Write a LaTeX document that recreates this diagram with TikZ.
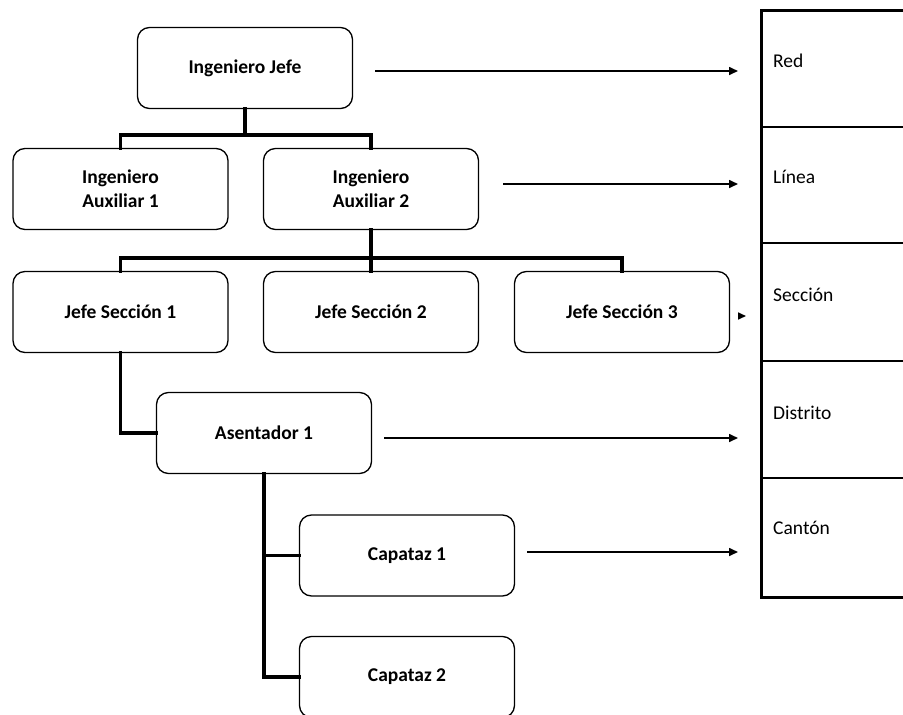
\documentclass[tikz,border=0pt]{standalone}
\usepackage{fontspec}
\setmainfont{Carlito}
\usetikzlibrary{arrows.meta,calc}
\begin{document}
\begin{tikzpicture}[x=1pt,y=-1pt,
  box/.style={draw=black,line width=1.3pt,rounded corners=12pt,fill=white,
    minimum width=215pt,minimum height=81pt,align=center,
    font=\fontsize{19.5}{24}\selectfont\bfseries},
  conn/.style={line width=3.8pt,line join=miter,line cap=rect},
  ptr/.style={line width=1.6pt,-{Triangle[length=9pt,width=8pt]}},
  cell/.style={anchor=west,inner sep=0pt,font=\fontsize{19.5}{24}\selectfont},
  tblthick/.style={line width=3pt,line join=miter},
  tblthin/.style={line width=2pt}]
\useasboundingbox (0,0) rectangle (903,715);

% organisation boxes
\node[box] (jefe)  at (245,68)    {Ingeniero Jefe};
\node[box] (aux1)  at (120.5,189) {Ingeniero\\Auxiliar 1};
\node[box] (aux2)  at (371,189)   {Ingeniero\\Auxiliar 2};
\node[box] (js1)   at (120.5,312) {Jefe Sección 1};
\node[box] (js2)   at (371,312)   {Jefe Sección 2};
\node[box] (js3)   at (622,312)   {Jefe Sección 3};
\node[box] (asent) at (264,433)   {Asentador 1};
\node[box] (cap1)  at (407,555.5) {Capataz 1};
\node[box] (cap2)  at (407,677)   {Capataz 2};

% hierarchy connectors
\coordinate (b1) at (245,135);
\coordinate (b2) at (371,258);
\draw[conn] (jefe.south) -- (b1);
\draw[conn] (aux1.north) |- (b1) -| (aux2.north);
\draw[conn] (aux2.south) -- (b2);
\draw[conn] (js1.north) |- (b2) -| (js3.north);
\draw[conn] (b2) -- (js2.north);
\draw[conn] (js1.south) |- (asent.west);
\draw[conn] (asent.south) |- (cap2.west);
\draw[conn] (asent.south |- cap1.west) -- (cap1.west);

% levels table
\draw[tblthick] (906,10) -- (761,10) -- (761,597) -- (906,597);
\foreach \yy in {127,243,361,478}
  \draw[tblthin] (761,\yy) -- (906,\yy);
\node[cell] (red)  at (773,61)  {Red};
\node[cell] (lin)  at (773,177) {Línea};
\node[cell] (sec)  at (773,295) {Sección};
\node[cell] (dis)  at (773,413) {Distrito};
\node[cell] (can)  at (773,528) {Cantón};

% pointers to the levels
\coordinate (t1) at (738,71);
\coordinate (t2) at (738,184);
\coordinate (t3) at (746,316);
\coordinate (t4) at (738,438);
\coordinate (t5) at (738,552);
\draw[ptr] ($(jefe.east)+(22,3)$) -- (t1);
\draw[ptr] ($(aux2.east)+(24,-5)$) -- (t2);
\draw[ptr,-{Triangle[length=8pt,width=7pt]}] ($(js3.east)+(9,4)$) -- (t3);
\draw[ptr] ($(asent.east)+(12,5)$) -- (t4);
\draw[ptr] ($(cap1.east)+(12,-3.5)$) -- (t5);
\end{tikzpicture}
\end{document}
